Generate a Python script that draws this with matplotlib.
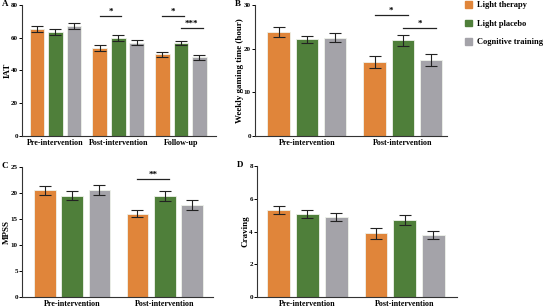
import matplotlib.pyplot as plt
from matplotlib.patches import Patch

plt.rcParams['font.family'] = ['Liberation Serif', 'DejaVu Serif']
plt.rcParams['font.weight'] = 'bold'

groups = ['Light therapy', 'Light placebo', 'Cognitive training']
colors = ['#E0853A', '#4F7F3A', '#A4A3A9']

# panel A
iat_cats = ['Pre-intervention', 'Post-intervention', 'Follow-up']
iat_mean = [[65.5, 53.5, 50.0], [63.5, 60.0, 56.8], [67.0, 57.0, 48.0]]
iat_err = [[1.8, 1.8, 1.6], [1.7, 1.8, 1.2], [1.8, 1.6, 1.6]]
iat_sig = [(1, 0, 1, 73.5, '*'), (2, 0, 1, 73.5, '*'), (2, 1, 2, 66.0, '***')]

# panel B
gt_cats = ['Pre-intervention', 'Post-intervention']
gt_mean = [[23.8, 17.0], [22.1, 21.9], [22.5, 17.4]]
gt_err = [[1.2, 1.4], [0.9, 1.2], [1.0, 1.3]]
gt_sig = [(1, 0, 1, 27.7, '*'), (1, 1, 2, 24.8, '*')]

# panel C
mpss_cats = ['Pre-intervention', 'Post-intervention']
mpss_mean = [[20.5, 16.0], [19.5, 19.4], [20.6, 17.7]]
mpss_err = [[0.8, 0.7], [0.9, 0.9], [1.0, 0.9]]
mpss_sig = [(1, 0, 1, 22.7, '**')]

# panel D
crav_cats = ['Pre-intervention', 'Post-intervention']
crav_mean = [[5.3, 3.9], [5.05, 4.7], [4.9, 3.8]]
crav_err = [[0.25, 0.33], [0.25, 0.3], [0.23, 0.25]]
crav_sig = []

fig = plt.figure(figsize=(5.45, 3.08), dpi=100)
W, H = 545.0, 308.0


def panel(px, cats, means, errs, sigs, ylim, yticks, ylabel, xlim, letter):
    # px = (left, right, top, bottom) in pixels from top-left
    l, r, t, b = px
    ax = fig.add_axes([l / W, 1 - b / H, (r - l) / W, (b - t) / H])
    off = 0.295
    w = 0.235
    for i in range(3):
        xs = [g + (i - 1) * off for g in range(len(cats))]
        ax.bar(xs, means[i], width=w, color=colors[i], edgecolor='#eef2ea',
               linewidth=0.6, zorder=2)
        ax.errorbar(xs, means[i], yerr=errs[i], fmt='none', ecolor='#222222',
                    elinewidth=0.8, capsize=4, capthick=0.8, zorder=3)
    for g, a, c, y, txt in sigs:
        x1 = g + (a - 1) * off
        x2 = g + (c - 1) * off + 0.05
        ax.plot([x1, x2], [y, y], color='#222222', lw=0.9)
        ax.text((x1 + x2) / 2, y, txt, ha='center', va='bottom', fontsize=6.5)
    ax.set_xlim(*xlim)
    ax.set_ylim(*ylim)
    ax.set_yticks(yticks)
    ax.set_xticks(range(len(cats)))
    ax.set_xticklabels(cats, fontsize=5.8, fontweight='bold')
    ax.tick_params(axis='x', length=0, pad=2.5)
    ax.tick_params(axis='y', length=2, width=0.7, labelsize=5, pad=1)
    for s in ['top', 'right']:
        ax.spines[s].set_visible(False)
    for s in ['left', 'bottom']:
        ax.spines[s].set_linewidth(0.8)
        ax.spines[s].set_color('#333333')
    ax.set_ylabel(ylabel, fontsize=6.5, fontweight='bold', labelpad=-0.3)
    fig.text((l - 20) / W, 1 - (t - 1) / H, letter, fontsize=6.5,
             fontweight='bold', ha='left', va='center')
    return ax


panel((22, 216, 5, 136), iat_cats, iat_mean, iat_err, iat_sig,
      (0, 80), [0, 20, 40, 60, 80], 'IAT', (-0.534, 2.56), 'A')
panel((255, 447, 5, 136), gt_cats, gt_mean, gt_err, gt_sig,
      (0, 30), [0, 10, 20, 30], 'Weekly gaming time (hour)', (-0.54, 1.46),
      'B')
panel((22, 213, 167, 297), mpss_cats, mpss_mean, mpss_err, mpss_sig,
      (0, 25), [0, 5, 10, 15, 20, 25], 'MPSS', (-0.54, 1.52), 'C')
panel((257, 457, 166, 297), crav_cats, crav_mean, crav_err, crav_sig,
      (0, 8), [0, 2, 4, 6, 8], 'Craving', (-0.52, 1.54), 'D')

handles = [Patch(color=c) for c in colors]
fig.legend(handles, groups, loc='upper left', bbox_to_anchor=(465 / W, 1 - 1 / H),
           frameon=False, handlelength=0.85, handleheight=0.85,
           labelspacing=1.25, handletextpad=0.6, borderpad=0, borderaxespad=0,
           prop={'weight': 'bold', 'size': 6})

fig.savefig('out.png', dpi=100)
